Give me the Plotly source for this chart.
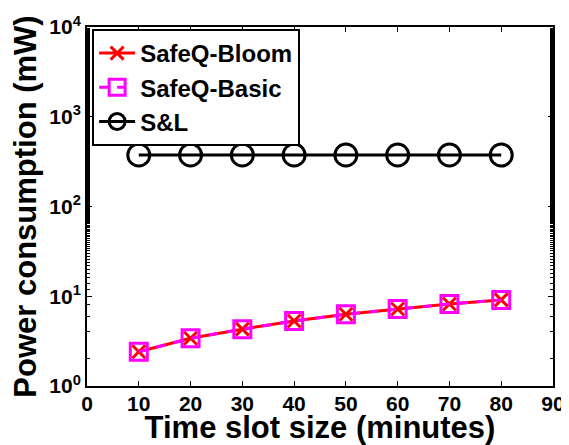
import plotly.graph_objects as go

x_slots = [10, 20, 30, 40, 50, 60, 70, 80]
safeq_bloom = [2.41, 3.4, 4.3, 5.3, 6.3, 7.2, 8.2, 9.1]
safeq_basic = [2.41, 3.4, 4.3, 5.3, 6.3, 7.2, 8.2, 9.1]
snl = [375, 375, 375, 375, 375, 375, 375, 375]

x_ticks = [0, 10, 20, 30, 40, 50, 60, 70, 80, 90]
y_tickvals = [1, 10, 100, 1000, 10000]
y_ticktext = ["10<sup>0</sup>", "10<sup>1</sup>", "10<sup>2</sup>", "10<sup>3</sup>", "10<sup>4</sup>"]

FONT = "Liberation Sans, Arial, sans-serif"

fig = go.Figure()
fig.add_trace(go.Scatter(
    x=x_slots, y=safeq_bloom, name="SafeQ-Bloom", mode="lines+markers",
    line=dict(color="red", width=3),
    marker=dict(symbol="x-thin", size=13, line=dict(color="red", width=3), color="red"),
))
fig.add_trace(go.Scatter(
    x=x_slots, y=safeq_basic, name="SafeQ-Basic", mode="lines+markers",
    line=dict(color="magenta", width=3, dash="dash"),
    marker=dict(symbol="square-open", size=17, line=dict(color="magenta", width=3), color="magenta"),
))
fig.add_trace(go.Scatter(
    x=x_slots, y=snl, name="S&L", mode="lines+markers",
    line=dict(color="black", width=3),
    marker=dict(symbol="circle-open", size=22, line=dict(color="black", width=3), color="black"),
))

# page body has an 8px default margin, so the figure is sized/offset to compensate
fig.update_layout(
    width=561, height=437,
    margin=dict(l=79, r=16, t=19, b=59, autoexpand=False),
    paper_bgcolor="white", plot_bgcolor="white",
    font=dict(family=FONT, size=21, color="black", weight="bold"),
    showlegend=True,
    legend=dict(
        x=0.011, y=0.9945, xanchor="left", yanchor="top",
        bordercolor="black", borderwidth=2, bgcolor="white",
        font=dict(family=FONT, size=24, color="black", weight="bold"),
        tracegroupgap=0, itemwidth=36,
    ),
)
fig.update_xaxes(
    range=[0, 90], tickvals=x_ticks, ticktext=[str(v) for v in x_ticks],
    showline=True, linecolor="black", linewidth=2, mirror="ticks",
    ticks="inside", ticklen=5, tickcolor="black", showgrid=False, zeroline=False,
    automargin=False, ticklabelstandoff=-2,
    tickfont=dict(family=FONT, size=21, weight="bold"),
    title=dict(text="Time slot size (minutes)", font=dict(family=FONT, size=31, weight="bold"), standoff=2),
)
fig.update_yaxes(
    type="log", range=[0, 4], tickvals=y_tickvals, ticktext=y_ticktext,
    showline=True, linecolor="black", linewidth=2, mirror="ticks",
    ticks="inside", ticklen=5, tickcolor="black", showgrid=False, zeroline=False,
    automargin=False,
    minor=dict(ticks="inside", ticklen=3, tickcolor="black", showgrid=False),
    tickfont=dict(family=FONT, size=21, weight="bold"),
    title=dict(text="Power consumption (mW)", font=dict(family=FONT, size=31, weight="bold"), standoff=11),
)

fig.write_html("out.html")
